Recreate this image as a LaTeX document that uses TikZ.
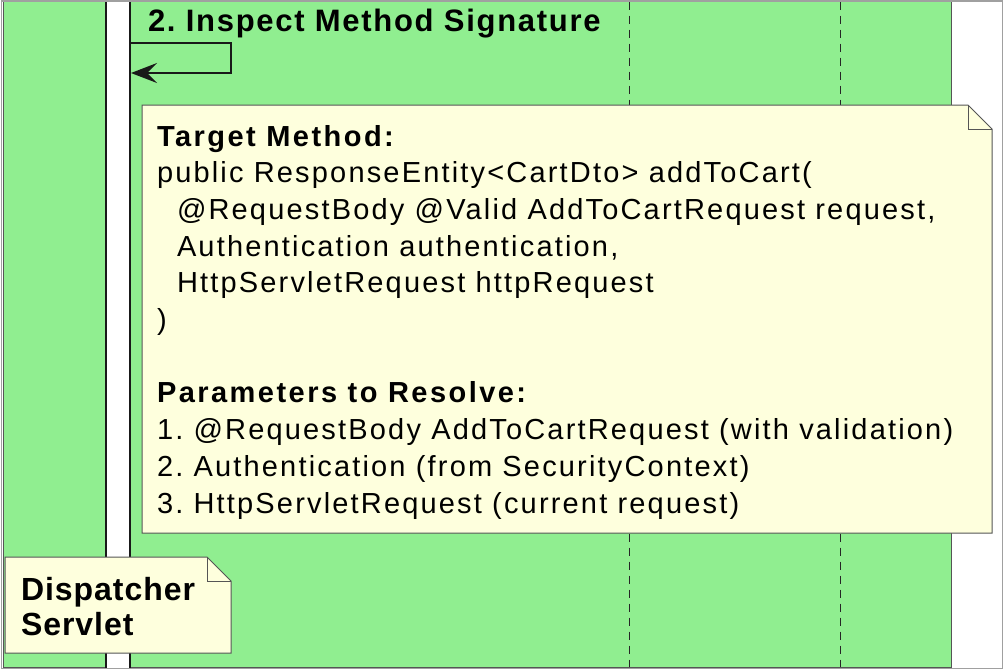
\documentclass[tikz,border=0pt]{standalone}
\usepackage{fontspec}
\setmainfont{Liberation Sans}
\newfontfamily\titlefam{Liberation Sans}[LetterSpace=5.5]
\newfontfamily\notereg{Liberation Sans}[LetterSpace=7.5]
\newfontfamily\notebold{Liberation Sans}[LetterSpace=8.5]
\newfontfamily\partfam{Liberation Sans}[LetterSpace=3]
\usetikzlibrary{arrows.meta}
\definecolor{lifegreen}{HTML}{90EE90}
\definecolor{notefill}{HTML}{FEFFDD}
\definecolor{framegrey}{HTML}{A0A0A0}
\definecolor{edgegrey}{HTML}{555555}
\frenchspacing
\tikzset{
  every node/.style={inner sep=0pt, outer sep=0pt},
  dashline/.style={draw=black!85, line width=1pt, dash pattern=on 8pt off 6pt},
  lifeline/.style={draw=black!90, line width=1.5pt},
  msg/.style={draw=black!90, line width=1.5pt, -{Stealth[length=26pt,width=20pt,inset=10pt]}},
  noteshape/.style={fill=notefill, draw=edgegrey, line width=1pt, line join=miter},
  foldline/.style={draw=edgegrey, line width=1pt},
  notetext/.style={anchor=base west, font=\fontsize{29}{34}\notereg},
  noteboldtext/.style={anchor=base west, font=\fontsize{29}{34}\notebold\bfseries},
  titletext/.style={anchor=base west, font=\fontsize{31}{36}\titlefam\bfseries},
  parttext/.style={anchor=base west, font=\fontsize{32}{36}\partfam\bfseries}
}
\begin{document}
\begin{tikzpicture}[x=1pt,y=-1pt]
\useasboundingbox (0,0) rectangle (1004,670);
\fill[white] (0,0) rectangle (1004,670);
% green band
\draw[fill=lifegreen, draw=edgegrey, line width=1pt] (3,1) rectangle (951,667);
% dashed lifelines
\draw[dashline] (629.3,1.5) -- (629.3,667);
\draw[dashline] (840.7,1.5) -- (840.7,667);
% active lifeline
\fill[white] (106,0) rectangle (130,668);
\draw[lifeline] (106,0) -- (106,668);
\draw[lifeline] (130,0) -- (130,668);
% outer frame
\draw[framegrey, line width=1.5pt] (1.5,0.75) rectangle (1002.5,668.5);
% self message
\node[titletext] (title) at (148,31.7) {2. Inspect Method Signature};
\coordinate (msgstart) at (130.8,43);
\coordinate (msgend) at (131,73);
\draw[msg] (msgstart) -- ++(100,0) |- (msgend);
% big note
\draw[noteshape] (142,105) -- (968,105) -- (992,129) -- (992,533) -- (142,533) -- cycle;
\draw[foldline] (968,105) -- (968,129) -- (992,129);
\node[noteboldtext] (n1) at (157,146) {Target Method:};
\node[notetext] (n2) at (157,182.7) {public ResponseEntity<CartDto> addToCart(};
\node[notetext] (n3) at (177,219.4) {@RequestBody @Valid AddToCartRequest request,};
\node[notetext] (n4) at (177,256.1) {Authentication authentication,};
\node[notetext] (n5) at (177,292.8) {HttpServletRequest httpRequest};
\node[notetext] (n6) at (157,329.5) {)};
\node[noteboldtext] (n7) at (157,402.9) {Parameters to Resolve:};
\node[notetext] (n8) at (157,439.6) {1. @RequestBody AddToCartRequest (with validation)};
\node[notetext] (n9) at (157,476.3) {2. Authentication (from SecurityContext)};
\node[notetext] (n10) at (157,513) {3. HttpServletRequest (current request)};
% participant note
\draw[noteshape] (5,557) -- (207,557) -- (231,581) -- (231,653) -- (5,653) -- cycle;
\draw[foldline] (207,557) -- (207,581) -- (231,581);
\node[parttext] (p1) at (21,600) {Dispatcher};
\node[parttext] (p2) at (21,635) {Servlet};
\end{tikzpicture}
\end{document}
